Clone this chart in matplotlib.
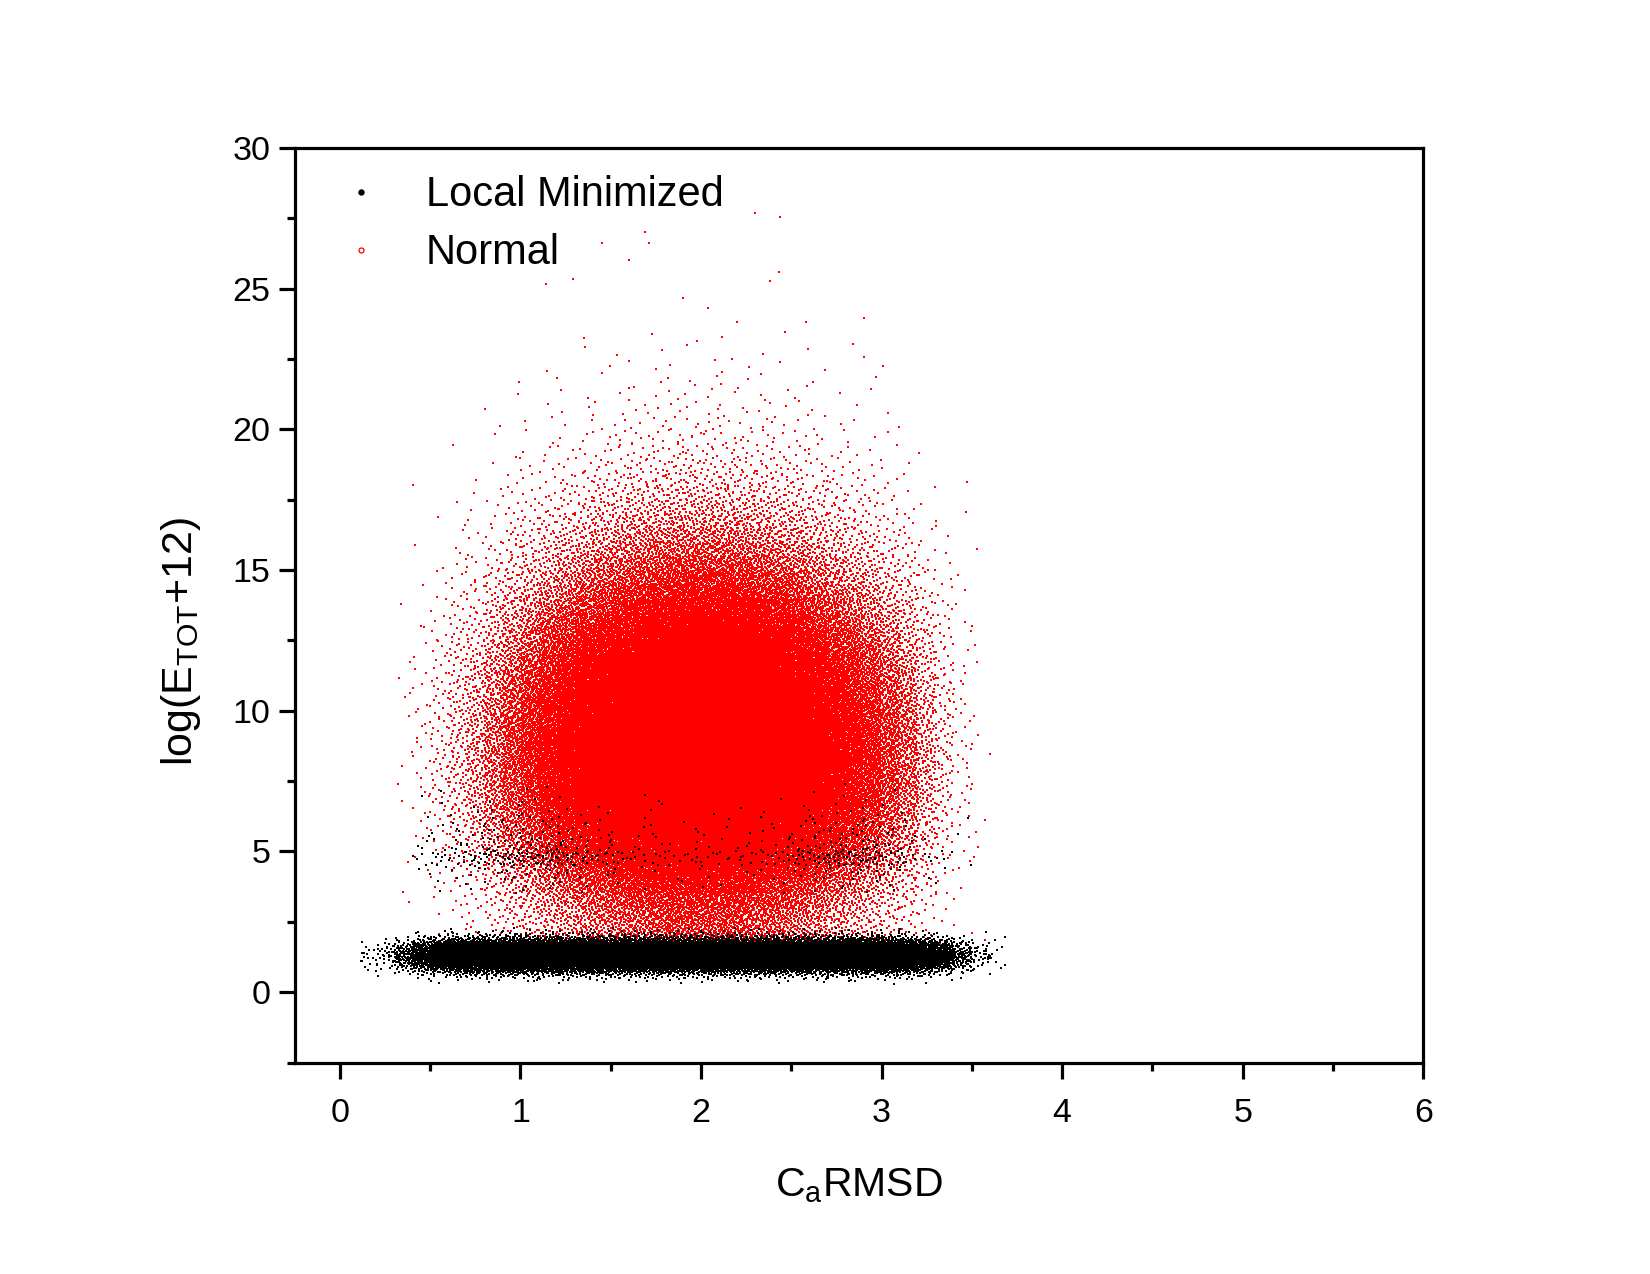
import numpy as np
import matplotlib
matplotlib.use('Agg')
import matplotlib.pyplot as plt
from matplotlib.lines import Line2D
from matplotlib.ticker import MultipleLocator

plt.rcParams['font.family'] = ['Liberation Sans', 'DejaVu Sans']
plt.rcParams['mathtext.default'] = 'regular'

# ------------------------------------------------------------------
# Point clouds, read off the picture as binned densities
# (points per unit^2 = y-profile value * x-weight)
# ------------------------------------------------------------------

# "Normal" (red) cloud
red_x_edges = np.round(np.arange(0.3, 3.601, 0.1), 2)
red_x_weight = [0.002, 0.005, 0.014, 0.03, 0.05, 0.09, 0.145, 0.21, 0.29, 0.385,
                0.49, 0.6, 0.71, 0.81, 0.9, 0.96, 0.996, 0.996, 0.963, 0.902,
                0.817, 0.716, 0.607, 0.497, 0.395, 0.3, 0.22, 0.155, 0.1, 0.05,
                0.022, 0.006, 0.002]
red_y_edges = np.round(np.arange(1.5, 23.51, 0.5), 2)
red_y_density = [900, 1100, 1350, 1700, 2200, 2900, 3700, 4600, 5600, 6600,
                 7500, 8200, 8500, 8600, 8600, 8400, 8000, 7500, 6900, 6200,
                 5400, 4600, 3900, 3200, 2600, 2050, 1600, 1250, 950, 720,
                 540, 400, 290, 210, 150, 105, 75, 55, 40, 30,
                 22, 16, 12, 9]
# isolated red points at the top
red_out_x = [2.30, 2.44, 1.69, 1.71, 1.45, 1.60, 1.29, 1.14, 2.43, 2.38, 1.90, 2.58, 2.90, 2.20, 2.04]
red_out_y = [27.7, 27.55, 27.0, 26.6, 26.6, 26.0, 25.35, 25.15, 25.6, 25.25, 24.65, 23.8, 23.95, 23.8, 24.3]

# "Local Minimized" (black) band near y ~ 1.3
blk_x_edges = np.round(np.arange(0.1, 3.701, 0.1), 2)
blk_x_weight = [0.02, 0.05, 0.15, 0.35, 0.6, 0.8, 0.9, 0.97, 1.0, 1.0,
                1.0, 1.0, 1.0, 1.0, 1.0, 1.0, 1.0, 1.0, 1.0, 1.0,
                1.0, 1.0, 1.0, 1.0, 1.0, 1.0, 1.0, 0.97, 0.95, 0.92,
                0.8, 0.6, 0.35, 0.15, 0.05, 0.015]
blk_y_edges = np.round(np.arange(0.3, 2.301, 0.1), 2)
blk_y_density = [50, 150, 400, 900, 1800, 3200, 5000, 7000, 8500, 9000,
                 9000, 8500, 7000, 5000, 3200, 1800, 900, 400, 150, 50]

# sparse black points around y ~ 5
blk2_x_edges = np.round(np.arange(0.4, 3.501, 0.1), 2)
blk2_x_weight = [0.3, 0.5, 0.6, 0.7, 0.9, 1.0, 1.0, 1.0, 0.9, 0.7,
                 0.5, 0.4, 0.35, 0.3, 0.3, 0.3, 0.3, 0.3, 0.35, 0.4,
                 0.5, 0.7, 0.9, 1.0, 1.0, 0.9, 0.6, 0.4, 0.25, 0.15, 0.08]
blk2_y_edges = np.round(np.arange(3.5, 7.51, 0.25), 2)
blk2_y_density = [30, 40, 60, 90, 250, 350, 150, 100, 85, 70, 55, 40, 28, 18, 10, 5]


def radical_inverse(idx, base):
    out = np.zeros(len(idx))
    f = 1.0 / base
    i = idx.copy()
    while np.any(i > 0):
        out += f * (i % base)
        i //= base
        f /= base
    return out


def cloud(x_edges, x_w, y_edges, y_d, offset):
    x_edges = np.asarray(x_edges)
    y_edges = np.asarray(y_edges)
    dx = np.diff(x_edges)
    dy = np.diff(y_edges)
    expected = np.outer(np.asarray(y_d) * dy, np.asarray(x_w) * dx).ravel()
    cum = np.floor(np.cumsum(expected) + 0.5)
    counts = np.diff(np.concatenate([[0], cum])).astype(int)
    gx, gy = np.meshgrid(np.arange(len(dx)), np.arange(len(dy)))
    gx = np.repeat(gx.ravel(), counts)
    gy = np.repeat(gy.ravel(), counts)
    idx = np.arange(offset, offset + counts.sum())
    u = radical_inverse(idx, 2)
    v = radical_inverse(idx, 3)
    return x_edges[gx] + u * dx[gx], y_edges[gy] + v * dy[gy]


rx, ry = cloud(red_x_edges, red_x_weight, red_y_edges, red_y_density, 1)
rx = np.concatenate([rx, red_out_x])
ry = np.concatenate([ry, red_out_y])
bx1, by1 = cloud(blk_x_edges, blk_x_weight, blk_y_edges, blk_y_density, 500001)
bx2, by2 = cloud(blk2_x_edges, blk2_x_weight, blk2_y_edges, blk2_y_density, 900001)
bx = np.concatenate([bx1, bx2])
by = np.concatenate([by1, by2])

# ------------------------------------------------------------------
fig = plt.figure(figsize=(16.5, 12.74), dpi=100)
ax = fig.add_axes([0.1786, 0.166, 0.684, 0.718])

ax.plot(rx, ry, ls='none', marker='s', ms=1.45, mew=0, color='#ff0000', antialiased=False)
ax.plot(bx, by, ls='none', marker='s', ms=1.45, mew=0, color='black', antialiased=False)

ax.set_xlim(-0.25, 6)
ax.set_ylim(-2.5, 30)
ax.xaxis.set_major_locator(MultipleLocator(1))
ax.xaxis.set_minor_locator(MultipleLocator(0.5))
ax.yaxis.set_major_locator(MultipleLocator(5))
ax.yaxis.set_minor_locator(MultipleLocator(2.5))

for s in ax.spines.values():
    s.set_linewidth(2.3)
ax.tick_params(which='both', direction='out', top=False, right=False, width=2.3)
ax.tick_params(which='major', length=11.5, labelsize=24.5)
ax.tick_params(axis='x', which='major', pad=14)
ax.tick_params(axis='y', which='major', pad=6)
ax.tick_params(which='minor', length=6)

ax.set_xlabel(r'C$_{a}$RMSD', fontsize=29.5, labelpad=27)
ax.set_ylabel(r'log(E$_{TOT}$+12)', fontsize=31)
ax.yaxis.set_label_coords(-0.081, 0.46)

handles = [Line2D([], [], ls='none', marker='o', ms=3.6, color='black'),
           Line2D([], [], ls='none', marker='o', ms=3.6, mfc='none', mec='red', mew=0.9)]
ax.legend(handles, ['Local Minimized', 'Normal'], loc='upper left',
          bbox_to_anchor=(0.040, 0.970), frameon=False, fontsize=30,
          handlelength=1.0, handletextpad=1.06, labelspacing=0.43,
          borderaxespad=0, borderpad=0)

fig.savefig('out.png', dpi=100)
